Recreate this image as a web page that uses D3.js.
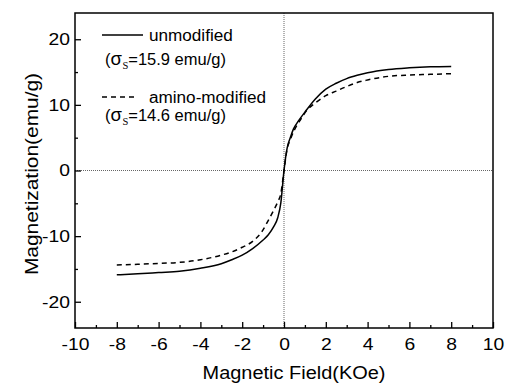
<!DOCTYPE html>
<html>
<head>
<meta charset="utf-8">
<script src="https://cdn.jsdelivr.net/npm/d3@7"></script>
<style>
  body { margin:0; background:#fff; }
  text { font-family: "Liberation Sans", Arial, sans-serif; fill:#000; }
</style>
</head>
<body>
<script>
// tick values
var xTicks = [-10,-8,-6,-4,-2,0,2,4,6,8,10];
var xMinor = [-9,-7,-5,-3,-1,1,3,5,7,9];
var yTicks = [-20,-10,0,10,20];
var yMinor = [-15,-5,5,15];

// unmodified (solid)
var fieldA = [-8,-7,-6,-5,-4,-3,-2.5,-2,-1.5,-1,-0.75,-0.5,-0.3,-0.15,0,0.15,0.3,0.45,0.7,1,1.5,2,2.5,3,3.5,4,5,6,7,8];
var magA   = [-15.9,-15.75,-15.55,-15.35,-14.9,-14.2,-13.6,-12.9,-11.9,-10.6,-9.8,-8.6,-7.2,-4.9,0,3.4,5.0,6.3,7.6,8.9,10.9,12.4,13.3,14.0,14.5,14.9,15.4,15.65,15.8,15.85];

// amino-modified (dashed)
var fieldB = [-8,-7,-6,-5,-4,-3,-2.5,-2,-1.5,-1.1,-0.7,-0.45,-0.3,-0.15,0,0.15,0.3,0.5,0.8,1.1,1.5,2,2.5,3,3.5,4,5,6,7,8];
var magB   = [-14.4,-14.3,-14.15,-14.0,-13.6,-12.9,-12.4,-11.7,-10.8,-9.5,-7.3,-5.8,-4.8,-3.5,0,3.3,4.7,6.2,7.8,9.2,10.3,11.4,12.1,12.8,13.4,13.8,14.35,14.55,14.65,14.75];

var legendLabels = ["unmodified", "amino-modified"];
var sigmaValues = ["15.9", "14.6"];

var width = 505, height = 383;
var margin = {left:75, right:12, top:13, bottom:55};
var w = width - margin.left - margin.right;
var h = height - margin.top - margin.bottom;

var svg = d3.select("body").append("svg")
            .attr("width", width)
            .attr("height", height);
var g = svg.append("g")
           .attr("transform","translate("+margin.left+","+margin.top+")");

var x = d3.scaleLinear().domain([-10,10]).range([0,w]);
var y = d3.scaleLinear().domain([-24,24]).range([h,0]);

function stretch(sel, k){
  sel.each(function(){
    var len = this.getComputedTextLength();
    d3.select(this).attr("textLength", len*k).attr("lengthAdjust","spacingAndGlyphs");
  });
}

// zero reference lines
g.append("line").attr("x1",x(0)).attr("x2",x(0)).attr("y1",0).attr("y2",h)
  .attr("stroke","#666").attr("stroke-width",1).attr("stroke-dasharray","1,1");
g.append("line").attr("x1",0).attr("x2",w).attr("y1",y(0)).attr("y2",y(0))
  .attr("stroke","#666").attr("stroke-width",1).attr("stroke-dasharray","1,1");

// axes
var xAxis = g.append("g").attr("transform","translate(0,"+h+")")
  .call(d3.axisBottom(x).tickValues(xTicks).tickSizeInner(-6).tickSizeOuter(0).tickPadding(10)
        .tickFormat(function(d){ return String(d); }));
var xAxisMinor = g.append("g").attr("transform","translate(0,"+h+")")
  .call(d3.axisBottom(x).tickValues(xMinor).tickSizeInner(-3).tickSizeOuter(0).tickFormat(""));
var yAxis = g.append("g")
  .call(d3.axisLeft(y).tickValues(yTicks).tickSizeInner(-6).tickSizeOuter(0).tickPadding(5)
        .tickFormat(function(d){ return String(d); }));
var yAxisMinor = g.append("g")
  .call(d3.axisLeft(y).tickValues(yMinor).tickSizeInner(-3).tickSizeOuter(0).tickFormat(""));

g.selectAll(".domain").remove();
g.selectAll(".tick line").attr("stroke","#000").attr("stroke-width",1.3);
g.selectAll(".tick text").style("font-size","16.5px").style("font-family","'Liberation Sans', Arial, sans-serif");
stretch(g.selectAll(".tick text"), 1.17);

// frame
g.append("rect").attr("x",0).attr("y",0).attr("width",w).attr("height",h)
  .attr("fill","none").attr("stroke","#000").attr("stroke-width",1.5);

// curves
var line = d3.line()
             .x(function(d){ return x(d[0]); })
             .y(function(d){ return y(d[1]); })
             .curve(d3.curveMonotoneX);

g.append("path").attr("d", line(d3.zip(fieldA, magA)))
  .attr("fill","none").attr("stroke","#000").attr("stroke-width",1.5);
g.append("path").attr("d", line(d3.zip(fieldB, magB)))
  .attr("fill","none").attr("stroke","#000").attr("stroke-width",1.5)
  .attr("stroke-dasharray","5,4");

// legend
var legY = [35, 97];
var subY = [65, 121];
var legEnd = [143, 137];
legendLabels.forEach(function(lab, i){
  svg.append("line").attr("x1",102).attr("x2",legEnd[i]).attr("y1",legY[i]).attr("y2",legY[i])
     .attr("stroke","#000").attr("stroke-width",1.3)
     .attr("stroke-dasharray", i==0 ? null : "5,4");
  var t = svg.append("text").attr("x",149).attr("y",legY[i]+6)
     .style("font-size","16px").text(lab);
  stretch(t, 1.07);
  var s = svg.append("text").attr("x",105).attr("y",subY[i]).style("font-size","16.5px");
  s.append("tspan").text("(");
  s.append("tspan").style("font-size","18.5px").text("\u03c3");
  s.append("tspan").attr("dy",4).attr("dx",0.5).style("font-size","10.5px")
   .style("font-family","'Liberation Serif', 'Times New Roman', serif").text("S");
  s.append("tspan").attr("dy",-4).text("=" + sigmaValues[i] + " emu/g)");
});

// axis titles
var xt = svg.append("text").attr("x",294).attr("y",379).attr("text-anchor","middle")
   .style("font-size","17.5px").text("Magnetic Field(KOe)");
stretch(xt, 1.14);
var yt = svg.append("text").attr("transform","translate(38,174) rotate(-90)")
   .attr("text-anchor","middle").style("font-size","19px").text("Magnetization(emu/g)");
stretch(yt, 1.1);
</script>
</body>
</html>
